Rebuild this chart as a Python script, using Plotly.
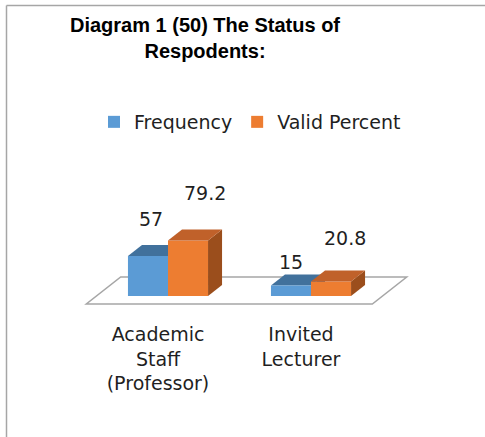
import plotly.graph_objects as go

# ---------------- data ----------------
categories = ["Academic<br>Staff<br>(Professor)", "Invited<br>Lecturer"]
series_names = ["Frequency", "Valid Percent"]
frequency = [57, 15]
valid_percent = [79.2, 20.8]
title_text = "Diagram 1 (50) The Status of<br>Respodents:"

# ---------------- layout constants ----------------
W, H = 485, 437
ML, MR, MT, MB = 0, 0, 150, 125
PH = H - MT - MB

X_RANGE = [-1.1748, 2.2168]
Y_RANGE = [-22.86, 208.57]

BW = 0.28          # bar width (category units)
DX, DY = 0.098, 15.7   # oblique depth offset of one bar depth
FLOOR_FRONT, FLOOR_BACK = -0.727, 1.727   # floor depth extent (in bar depths)
FLOOR_X = [-0.5, 1.5]

front_cols = ["#5b9bd5", "#ed7d31"]
top_cols = ["#41719c", "#c0612a"]
side_cols = ["#3a6590", "#9b4e1c"]

FONT = "DejaVu Sans, Verdana, sans-serif"
FS = 19
TXT = "#1f1f1f"

xpos = list(range(len(categories)))
offsets = [-BW, 0.0]
series = [frequency, valid_percent]

fig = go.Figure()
for name, vals, off, col in zip(series_names, series, offsets, front_cols):
    fig.add_trace(go.Bar(
        x=xpos, y=vals, width=BW, offset=off, name=name,
        marker=dict(color=col, line=dict(width=0)),
        hoverinfo="skip",
    ))


def path(pts):
    return "M " + " L ".join(f"{x},{y}" for x, y in pts) + " Z"


shapes = []
# floor
fx0, fx1 = FLOOR_X
ff, fb = FLOOR_FRONT, FLOOR_BACK
floor_pts = [
    (fx0 + ff * DX, ff * DY), (fx1 + ff * DX, ff * DY),
    (fx1 + fb * DX, fb * DY), (fx0 + fb * DX, fb * DY),
]
shapes.append(dict(type="path", xref="x", yref="y", path=path(floor_pts),
                   line=dict(color="#a6a6a6", width=1.5), fillcolor="rgba(0,0,0,0)",
                   layer="below"))

for si, (vals, off) in enumerate(zip(series, offsets)):
    layer = "below" if si == 0 else "above"
    for xi, v in zip(xpos, vals):
        x0 = xi + off
        x1 = x0 + BW
        side = [(x1, 0), (x1, v), (x1 + DX, v + DY), (x1 + DX, DY)]
        top = [(x0, v), (x1, v), (x1 + DX, v + DY), (x0 + DX, v + DY)]
        shapes.append(dict(type="path", xref="x", yref="y", path=path(side),
                           fillcolor=side_cols[si], line=dict(width=0), layer=layer))
        shapes.append(dict(type="path", xref="x", yref="y", path=path(top),
                           fillcolor=top_cols[si], line=dict(width=0), layer=layer))

# chart frame (paper coords from pixel positions)
def px_x(p):
    return (p - ML) / (W - ML - MR)


def px_y(p):
    return (H - MB - p) / PH


shapes.append(dict(type="line", xref="paper", yref="paper",
                   x0=px_x(6.5), x1=px_x(W), y0=px_y(5.5), y1=px_y(5.5),
                   line=dict(color="#a6a6a6", width=1.5)))
shapes.append(dict(type="line", xref="paper", yref="paper",
                   x0=px_x(6.5), x1=px_x(6.5), y0=px_y(5.5), y1=px_y(H),
                   line=dict(color="#a6a6a6", width=1.5)))

# data labels
label_dx = [[3, 0], [17, 14]]
label_dy = [[37, 24], [48, 43]]
annotations = []
for si, (vals, off) in enumerate(zip(series, offsets)):
    for k, (xi, v) in enumerate(zip(xpos, vals)):
        annotations.append(dict(
            x=xi + off + BW / 2, y=v, xref="x", yref="y",
            text=f"{v:g}", showarrow=False,
            xshift=label_dx[si][k], yshift=label_dy[si][k],
            font=dict(family=FONT, size=FS, color=TXT),
            xanchor="center", yanchor="middle",
        ))

fig.update_layout(
    width=W, height=H,
    margin=dict(l=ML, r=MR, t=MT, b=MB, autoexpand=False),
    paper_bgcolor="white", plot_bgcolor="rgba(0,0,0,0)",
    barmode="overlay",
    title=dict(text=f"<b>{title_text}</b>", x=205 / W, xanchor="center",
               y=1 - 31.5 / H, yanchor="middle",
               font=dict(family="Arial, Liberation Sans, sans-serif", size=20, color="#000000")),
    legend=dict(orientation="h", x=250 / W, xanchor="center",
                y=px_y(122), yanchor="middle",
                font=dict(family=FONT, size=FS, color=TXT),
                bgcolor="rgba(0,0,0,0)"),
    xaxis=dict(range=X_RANGE, tickmode="array", tickvals=xpos, ticktext=categories,
               showgrid=False, zeroline=False, showline=False, ticks="",
               ticklabelshift=-10, ticklabelstandoff=9, automargin=False,
               tickfont=dict(family=FONT, size=FS, color=TXT), fixedrange=True),
    yaxis=dict(range=Y_RANGE, visible=False, showgrid=False, zeroline=False,
               fixedrange=True, automargin=False),
    shapes=shapes,
    annotations=annotations,
    showlegend=True,
)

fig.write_html("out.html", config={"displayModeBar": False},
               post_script="document.body.style.margin='0';document.body.style.overflow='hidden';")
